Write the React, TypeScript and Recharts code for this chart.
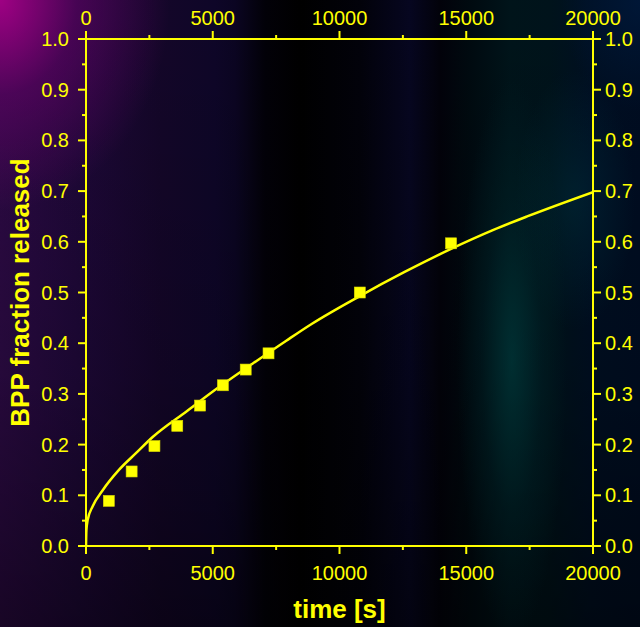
import React from 'react';
import { ComposedChart, Line, Scatter, XAxis, YAxis, Label } from 'recharts';

// Measured data (time in s, BPP fraction released)
const TIME_POINTS = [900, 1800, 2700, 3600, 4500, 5400, 6300, 7200, 10800, 14400];
const FRACTION_POINTS = [0.089, 0.147, 0.197, 0.237, 0.277, 0.317, 0.348, 0.38, 0.5, 0.597];

// Fitted curve
const FIT_TIME = [0, 15, 65, 260, 660, 1300, 1970, 2630, 3950, 5260, 6580, 7900, 8900, 10800, 12550, 14400, 16050, 17400, 20000];
const FIT_FRACTION = [0, 0.03, 0.051, 0.078, 0.11, 0.15, 0.183, 0.215, 0.265, 0.314, 0.36, 0.405, 0.438, 0.493, 0.54, 0.586, 0.623, 0.65, 0.698];

const X_TICKS = [0, 2500, 5000, 7500, 10000, 12500, 15000, 17500, 20000];
const Y_TICKS = [0, 0.05, 0.1, 0.15, 0.2, 0.25, 0.3, 0.35, 0.4, 0.45, 0.5, 0.55, 0.6, 0.65, 0.7, 0.75, 0.8, 0.85, 0.9, 0.95, 1.0];

const X_TITLE = 'time [s]';
const Y_TITLE = 'BPP fraction released';

const points = TIME_POINTS.map((x, i) => ({ x, y: FRACTION_POINTS[i] }));
const fit = FIT_TIME.map((x, i) => ({ x, y: FIT_FRACTION[i] }));

const YEL = '#ffff00';
const FONT = 'Arial, "Liberation Sans", sans-serif';

const isMajorX = (v: number) => v % 5000 === 0;
const isMajorY = (v: number) => Math.round(v * 100) % 10 === 0;

const XTick = (props: any) => {
  const { x, y, payload, orientation } = props;
  const v = payload.value;
  const major = isMajorX(v);
  const len = major ? 8 : 4;
  const dir = orientation === 'top' ? -1 : 1;
  return (
    <g>
      <line x1={x} x2={x} y1={y} y2={y + dir * len} stroke={YEL} strokeWidth={2} />
      {major && (
        <text
          x={x}
          y={orientation === 'top' ? y - 14 : y + 34}
          textAnchor="middle"
          fill={YEL}
          fontSize={20}
          fontFamily={FONT}
        >
          {v}
        </text>
      )}
    </g>
  );
};

const YTick = (props: any) => {
  const { x, y, payload, orientation } = props;
  const v = payload.value;
  const major = isMajorY(v);
  const len = major ? 8 : 4;
  const dir = orientation === 'right' ? 1 : -1;
  return (
    <g>
      <line x1={x} x2={x + dir * len} y1={y} y2={y} stroke={YEL} strokeWidth={2} />
      {major && (
        <text
          x={orientation === 'right' ? x + 12 : x - 17}
          y={y + 7}
          textAnchor={orientation === 'right' ? 'start' : 'end'}
          fill={YEL}
          fontSize={20}
          fontFamily={FONT}
        >
          {v.toFixed(1)}
        </text>
      )}
    </g>
  );
};

const Square = (props: any) => {
  const { cx, cy } = props;
  return <rect x={cx - 5.5} y={cy - 5.5} width={11} height={11} fill={YEL} stroke="#d8d800" strokeWidth={0.6} />;
};

const bg = [
  'radial-gradient(ellipse 170px 210px at 0px 0px, rgba(165,0,135,0.95) 0%, rgba(110,0,110,0.5) 45%, rgba(60,0,80,0) 100%)',
  'radial-gradient(ellipse 55px 280px at 512px 360px, rgba(0,75,75,0.5) 0%, rgba(0,50,55,0.25) 55%, rgba(0,0,0,0) 100%)',
  'radial-gradient(ellipse 60px 130px at 575px 200px, rgba(0,60,75,0.35) 0%, rgba(0,0,0,0) 100%)',
  'radial-gradient(ellipse 80px 110px at 640px 0px, rgba(0,35,80,0.45) 0%, rgba(0,0,0,0) 100%)',
  'linear-gradient(to bottom, rgba(0,0,0,0) 0%, rgba(0,0,0,0.15) 60%, rgba(0,0,0,0.45) 100%)',
  'linear-gradient(to right, #2c0a44 0px, #1e0838 80px, #140629 160px, #0e0628 215px, #0b0522 235px, #020108 265px, #000000 300px, #02020a 360px, #060620 410px, #02020a 440px, #000a10 470px, #00141a 510px, #00131b 550px, #000f22 590px, #000d22 640px)',
].join(', ');

export default function App() {
  return (
    <div style={{ position: 'absolute', left: 0, top: 0, width: 640, height: 627, background: bg }}>
      <ComposedChart width={640} height={627} margin={{ top: 0, right: 0, bottom: 0, left: 0 }}>
        <XAxis
          xAxisId="b"
          dataKey="x"
          type="number"
          domain={[0, 20000]}
          ticks={X_TICKS}
          interval={0}
          height={81}
          axisLine={{ stroke: YEL, strokeWidth: 2 }}
          tickLine={false}
          tickSize={0}
          tickMargin={0}
          tick={<XTick />}
          allowDataOverflow
        >
          <Label
            content={(p: any) => {
              const vb = p.viewBox;
              return (
                <text
                  x={vb.x + vb.width / 2}
                  y={vb.y + 72}
                  textAnchor="middle"
                  fill={YEL}
                  fontSize={26}
                  fontWeight="bold"
                  fontFamily={FONT}
                >
                  {X_TITLE}
                </text>
              );
            }}
          />
        </XAxis>
        <XAxis
          xAxisId="t"
          orientation="top"
          dataKey="x"
          type="number"
          domain={[0, 20000]}
          ticks={X_TICKS}
          interval={0}
          height={39}
          axisLine={{ stroke: YEL, strokeWidth: 2 }}
          tickLine={false}
          tickSize={0}
          tickMargin={0}
          tick={<XTick />}
          allowDataOverflow
        />
        <YAxis
          yAxisId="l"
          type="number"
          domain={[0, 1]}
          ticks={Y_TICKS}
          interval={0}
          width={86}
          axisLine={{ stroke: YEL, strokeWidth: 2 }}
          tickLine={false}
          tickSize={0}
          tickMargin={0}
          tick={<YTick />}
          allowDataOverflow
        >
          <Label
            content={(p: any) => {
              const vb = p.viewBox;
              const cx = vb.x + 20;
              const cy = vb.y + vb.height / 2;
              return (
                <text
                  x={cx}
                  y={cy}
                  transform={`rotate(-90 ${cx} ${cy})`}
                  textAnchor="middle"
                  dominantBaseline="central"
                  fill={YEL}
                  fontSize={26}
                  fontWeight="bold"
                  fontFamily={FONT}
                >
                  {Y_TITLE}
                </text>
              );
            }}
          />
        </YAxis>
        <YAxis
          yAxisId="r"
          orientation="right"
          type="number"
          domain={[0, 1]}
          ticks={Y_TICKS}
          interval={0}
          width={47}
          axisLine={{ stroke: YEL, strokeWidth: 2 }}
          tickLine={false}
          tickSize={0}
          tickMargin={0}
          tick={<YTick />}
          allowDataOverflow
        />
        {/* invisible twin series so the top and right axes get their ticks */}
        <Line
          xAxisId="t"
          yAxisId="r"
          data={fit}
          dataKey="y"
          type="monotone"
          stroke="transparent"
          strokeWidth={0}
          dot={false}
          activeDot={false}
          legendType="none"
          isAnimationActive={false}
        />
        <Line
          xAxisId="b"
          yAxisId="l"
          data={fit}
          dataKey="y"
          type="monotone"
          stroke={YEL}
          strokeWidth={2.5}
          dot={false}
          activeDot={false}
          isAnimationActive={false}
        />
        <Scatter
          xAxisId="b"
          yAxisId="l"
          data={points}
          dataKey="y"
          shape={<Square />}
          isAnimationActive={false}
        />
      </ComposedChart>
    </div>
  );
}
